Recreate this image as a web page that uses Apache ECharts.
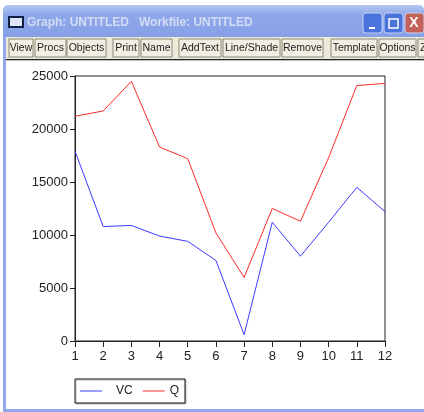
<!DOCTYPE html>
<html>
<head>
<meta charset="utf-8">
<style>
  html, body { margin: 0; padding: 0; background: #fff; }
  #chart { width: 424px; height: 412px; }
</style>
<script src="https://cdn.jsdelivr.net/npm/echarts@6/dist/echarts.min.js"></script>
</head>
<body>
<div id="chart"></div>
<script>
  var categories = ['1', '2', '3', '4', '5', '6', '7', '8', '9', '10', '11', '12'];
  var vc = [17900, 10800, 10900, 9900, 9400, 7600, 600, 11200, 8000, 11200, 14500, 12200];
  var q = [21200, 21700, 24500, 18300, 17200, 10200, 6000, 12500, 11300, 17300, 24100, 24300];

  // window toolbar: label, left, right
  var toolButtons = [
    ['View', 9, 33], ['Procs', 35, 66], ['Objects', 67, 106],
    ['Print', 113, 139], ['Name', 141, 172],
    ['AddText', 179, 221], ['Line/Shade', 223, 280], ['Remove', 282, 323],
    ['Template', 331, 377], ['Options', 379, 416], ['Z', 418, 440]
  ];

  var font = '"Liberation Sans", Arial, sans-serif';

  // window frame around the plot
  var chrome = [
    { type: 'rect', shape: { x: 0, y: 0, width: 424, height: 412 }, style: { fill: '#fff' } },
    { type: 'rect', shape: { x: 3, y: 5, width: 421, height: 32, r: [5, 5, 0, 0] },
      style: { fill: new echarts.graphic.LinearGradient(0, 0, 0, 1, [
        { offset: 0, color: '#b4c6f2' }, { offset: 0.3, color: '#8fa8ea' }, { offset: 1, color: '#86a0e6' }
      ]) } },
    { type: 'rect', shape: { x: 3, y: 37, width: 3, height: 372 }, style: { fill: '#93a8ea' } },
    { type: 'rect', shape: { x: 3, y: 409, width: 421, height: 3 }, style: { fill: '#93a8ea' } },
    { type: 'rect', shape: { x: 6, y: 37, width: 418, height: 22 }, style: { fill: '#ece9d8' } },
    { type: 'rect', shape: { x: 6, y: 59, width: 418, height: 1 }, style: { fill: '#222' } },
    { type: 'rect', shape: { x: 6, y: 60, width: 418, height: 1 }, style: { fill: '#bbb' } },
    // title bar icon
    { type: 'rect', shape: { x: 9, y: 17, width: 14, height: 10 }, style: { fill: '#dfe6f5', stroke: '#10204a', lineWidth: 2 } },
    { type: 'text', x: 27, y: 23, style: { text: 'Graph: UNTITLED   Workfile: UNTITLED', fill: '#d3dcf4', font: 'bold 12px ' + font, verticalAlign: 'middle' } },
    // title bar buttons
    { type: 'rect', shape: { x: 363, y: 13, width: 19, height: 20, r: 3 }, style: { fill: '#4a73dc', stroke: '#c6d2f2' } },
    { type: 'rect', shape: { x: 369, y: 27, width: 6, height: 2 }, style: { fill: '#fff' } },
    { type: 'rect', shape: { x: 384, y: 13, width: 19, height: 20, r: 3 }, style: { fill: '#4a73dc', stroke: '#c6d2f2' } },
    { type: 'rect', shape: { x: 389, y: 19, width: 9, height: 9 }, style: { fill: 'none', stroke: '#fff', lineWidth: 1.5 } },
    { type: 'rect', shape: { x: 405, y: 13, width: 19, height: 20, r: 3 }, style: { fill: '#c4625a', stroke: '#c6d2f2' } },
    { type: 'text', x: 414, y: 23, style: { text: 'X', fill: '#fff', font: 'bold 14px ' + font, align: 'center', verticalAlign: 'middle' } }
  ];

  toolButtons.forEach(function (b) {
    chrome.push({ type: 'rect', shape: { x: b[1], y: 39, width: b[2] - b[1], height: 18 },
      style: { fill: '#f1efe2', stroke: '#8a8878', lineWidth: 1 } });
    chrome.push({ type: 'text', x: b[0] === 'Z' ? b[1] + 2 : (b[1] + b[2]) / 2, y: 48,
      style: { text: b[0], fill: '#222', font: '10.5px ' + font, align: b[0] === 'Z' ? 'left' : 'center', verticalAlign: 'middle' } });
  });

  var myChart = echarts.init(document.getElementById('chart'), null, { renderer: 'canvas' });

  myChart.setOption({
    animation: false,
    backgroundColor: '#fff',
    textStyle: { fontFamily: font },
    graphic: { elements: chrome.map(function (e) { e.z = -1; return e; }) },
    grid: { left: 75, right: 39, top: 76, bottom: 71, show: true, borderColor: '#222', borderWidth: 1, backgroundColor: 'transparent' },
    legend: {
      left: 75, top: 379,
      padding: [6, 6, 6, 5],
      itemWidth: 22, itemHeight: 10, itemGap: 10,
      borderColor: '#111', borderWidth: 1,
      backgroundColor: '#fff',
      shadowColor: '#bbb', shadowOffsetX: 1, shadowOffsetY: 1,
      icon: 'path://M0 4.5H22V5.5H0Z',
      textStyle: { color: '#222', fontSize: 12 },
      data: [
        { name: 'VC', textStyle: { padding: [0, 0, 0, 9] } },
        { name: 'Q' }
      ]
    },
    xAxis: {
      type: 'category',
      boundaryGap: false,
      data: categories,
      axisLine: { lineStyle: { color: '#222', width: 1 } },
      axisTick: { alignWithLabel: true, length: 6, lineStyle: { color: '#222' } },
      axisLabel: { color: '#222', fontSize: 13, margin: 9, interval: 0 },
      splitLine: { show: false }
    },
    yAxis: {
      type: 'value',
      min: 0, max: 25000, interval: 5000,
      axisLine: { show: true, lineStyle: { color: '#222', width: 1 } },
      axisTick: { show: true, length: 5, lineStyle: { color: '#222' } },
      axisLabel: {
        color: '#222', fontSize: 13, margin: 7,
        formatter: function (v) { return String(v); }
      },
      splitLine: { show: false }
    },
    series: [
      { name: 'VC', type: 'line', data: vc, symbol: 'none', color: '#3a3aff', lineStyle: { width: 1, color: '#3a3aff' } },
      { name: 'Q', type: 'line', data: q, symbol: 'none', color: '#ff2a2a', lineStyle: { width: 1, color: '#ff2a2a' } }
    ]
  });
</script>
</body>
</html>
